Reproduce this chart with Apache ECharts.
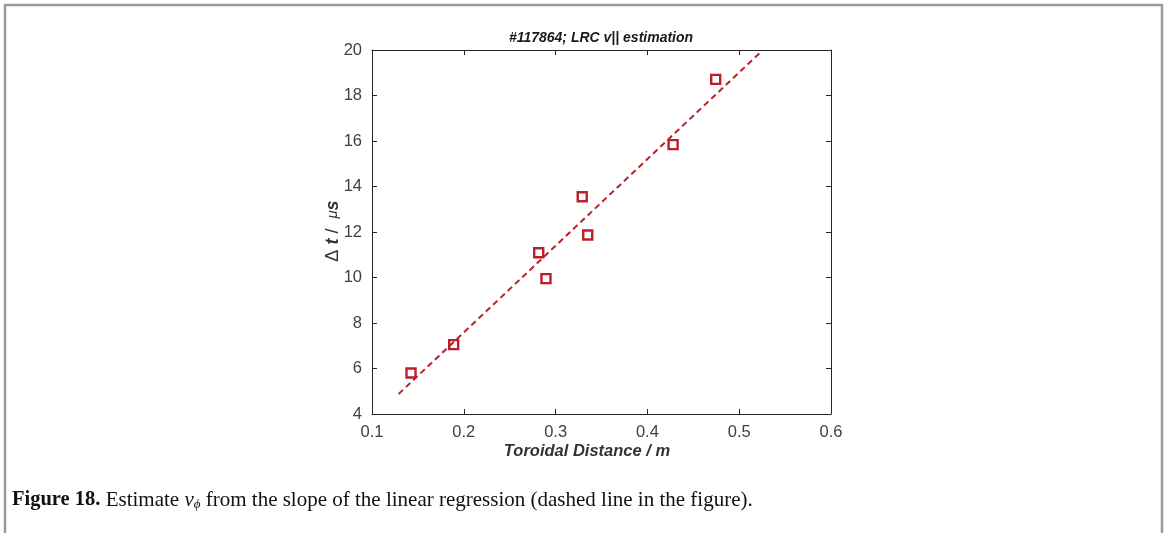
<!DOCTYPE html>
<html>
<head>
<meta charset="utf-8">
<script src="https://cdn.jsdelivr.net/npm/echarts@6/dist/echarts.min.js"></script>
<style>
html,body{margin:0;padding:0;background:#fff;}
#chart{width:1165px;height:533px;}
</style>
</head>
<body>
<div id="chart"></div>
<script>
// Measured points (toroidal distance in m, delay in µs)
const distance = [0.1425, 0.189, 0.2816, 0.2895, 0.329, 0.335, 0.428, 0.4744];
const delay    = [5.8,    7.05,  11.09,  9.95,   13.55, 11.87, 15.84, 18.71];
// Linear regression line end points
const fitX = [0.129, 0.5227];
const fitY = [4.88, 19.88];
const xTicks = [0.1, 0.2, 0.3, 0.4, 0.5, 0.6];
const yTicks = [4, 6, 8, 10, 12, 14, 16, 18, 20];

const RED = '#bb1f27';
const AX = '#262626';
const LAB = '#404040';

const chart = echarts.init(document.getElementById('chart'), null, {renderer: 'canvas'});
const grid = {left: 372, top: 50, width: 459, height: 364};

const baseX = {
  type: 'value', min: xTicks[0], max: xTicks[xTicks.length - 1], interval: 0.1,
  axisLine: {show: true, onZero: false, lineStyle: {color: AX, width: 1}},
  axisTick: {show: true, inside: true, length: 5, lineStyle: {color: AX}},
  splitLine: {show: false}
};
const baseY = {
  type: 'value', min: yTicks[0], max: yTicks[yTicks.length - 1], interval: 2,
  axisLine: {show: true, onZero: false, lineStyle: {color: AX, width: 1}},
  axisTick: {show: true, inside: true, length: 5, lineStyle: {color: AX}},
  splitLine: {show: false}
};

chart.setOption({
  animation: false,
  backgroundColor: '#fff',
  grid: grid,
  xAxis: [
    Object.assign({}, baseX, {position: 'bottom',
      axisLabel: {show: true, margin: 10, color: LAB, fontSize: 16.5, fontFamily: 'Liberation Sans',
        formatter: v => v.toFixed(1)}}),
    Object.assign({}, baseX, {position: 'top', axisLabel: {show: false}})
  ],
  yAxis: [
    Object.assign({}, baseY, {position: 'left',
      axisLabel: {show: true, margin: 10, color: LAB, fontSize: 16.5, fontFamily: 'Liberation Sans'}}),
    Object.assign({}, baseY, {position: 'right', axisLabel: {show: false}})
  ],
  series: [
    {
      type: 'scatter', xAxisIndex: 0, yAxisIndex: 0,
      data: distance.map((x, i) => [x, delay[i]]),
      symbol: 'rect', symbolSize: 9,
      itemStyle: {color: '#fff', borderColor: RED, borderWidth: 2.4, opacity: 1},
      z: 2
    },
    {
      type: 'line', xAxisIndex: 0, yAxisIndex: 0,
      data: fitX.map((x, i) => [x, fitY[i]]),
      showSymbol: false, symbol: 'none',
      lineStyle: {color: RED, width: 2, type: [6, 4]},
      z: 3
    }
  ],
  graphic: [
    {type: 'rect', shape: {x: 5, y: 5, width: 1157, height: 540},
     style: {fill: 'none', stroke: '#9a9a9a', lineWidth: 2.5}, silent: true},
    {type: 'text', x: 601, y: 38,
     style: {text: '#117864; LRC v|| estimation', fill: '#1a1a1a',
       font: 'italic bold 14px "Liberation Sans"', textAlign: 'center', textVerticalAlign: 'middle'}},
    {type: 'text', x: 587, y: 451,
     style: {text: 'Toroidal Distance / m', fill: '#333',
       font: 'italic bold 16.5px "Liberation Sans"', textAlign: 'center', textVerticalAlign: 'middle'}},
    {type: 'text', x: 333, y: 231, rotation: Math.PI / 2,
     style: {
       text: '{n|Δ }{b|t}{n| /  }{m|μ}{b|s}',
       rich: {
         n: {font: '18px "Liberation Sans"', fill: '#333'},
         b: {font: 'italic bold 18px "Liberation Sans"', fill: '#333'},
         m: {font: 'italic 15px "Liberation Sans"', fill: '#333'}
       },
       textAlign: 'center', textVerticalAlign: 'middle'}},
    {type: 'text', x: 12, y: 500,
     style: {
       text: '{b|Figure 18.}{n| Estimate }{i|v}{s|ϕ}{n| from the slope of the linear regression (dashed line in the figure).}',
       rich: {
         b: {font: 'bold 20.5px "Liberation Serif"', fill: '#111'},
         n: {font: '21px "Liberation Serif"', fill: '#111'},
         i: {font: 'italic 21px "Liberation Serif"', fill: '#111'},
         s: {font: 'italic 13px "Liberation Serif"', fill: '#111', verticalAlign: 'bottom', padding: [9, 0, 0, 0]}
       },
       textAlign: 'left', textVerticalAlign: 'middle'}}
  ]
});
</script>
</body>
</html>
